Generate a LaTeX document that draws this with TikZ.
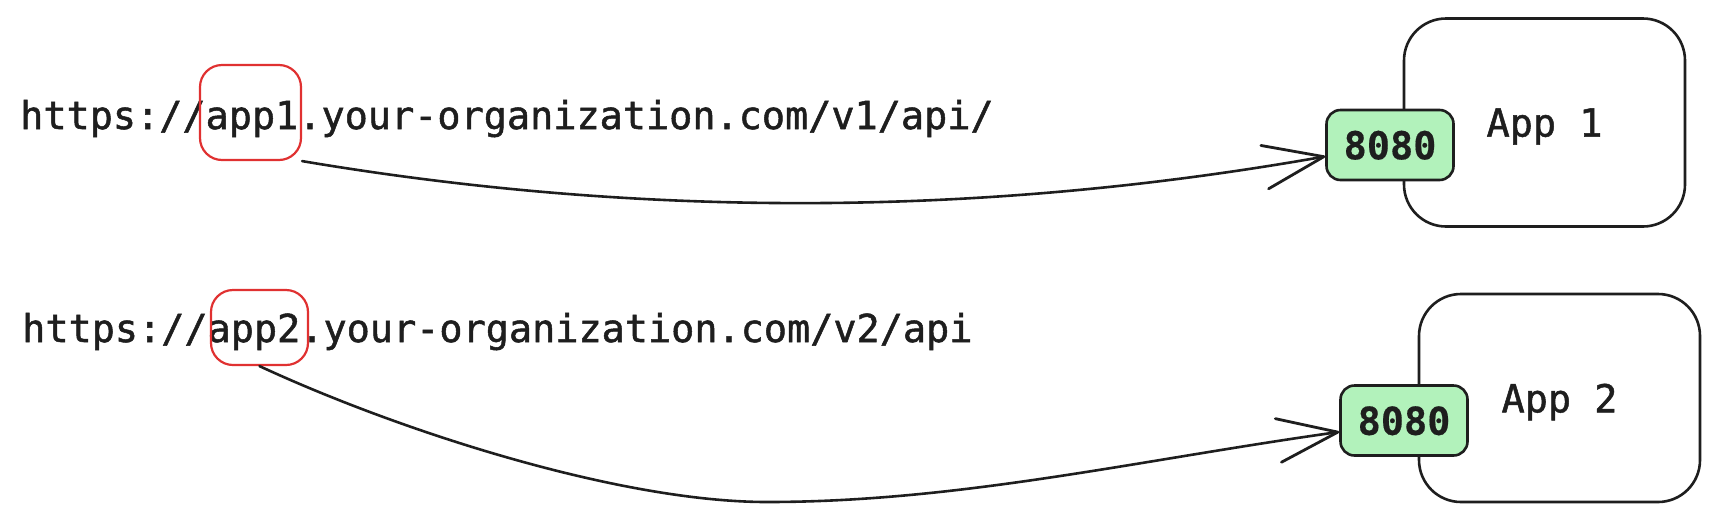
\documentclass[tikz,border=0pt]{standalone}
\usepackage{fontspec}
\setmainfont{DejaVu Sans Mono}[UprightFeatures={FakeBold=1.3}, BoldFeatures={FakeBold=0.4}]
\usetikzlibrary{arrows.meta}

\definecolor{ink}{HTML}{1E1E1E}
\definecolor{hlred}{HTML}{E03131}
\definecolor{portgreen}{HTML}{B2F2BB}

\tikzset{
  url/.style={anchor=base west, inner sep=0pt, text=ink},
  hlbox/.style={draw=hlred, line width=2.2pt, rounded corners=22pt, inner sep=0pt},
  appbox/.style={draw=ink, line width=2.6pt, rounded corners=42pt, fill=white,
    minimum width=281pt, minimum height=208pt, inner sep=0pt, text depth=0pt, text=ink},
  portbox/.style={draw=ink, line width=2.6pt, rounded corners=14pt, fill=portgreen,
    minimum width=127pt, minimum height=70pt, inner sep=0pt, text depth=0pt, text=ink,
    font=\bfseries},
  link/.style={draw=ink, line width=2.6pt, line cap=round,
    -{Straight Barb[length=60pt, width=44pt, line width=2.8pt, round]}}
}

\begin{document}
\begin{tikzpicture}[x=1pt, y=-1pt]
\useasboundingbox (0,0) rectangle (1718,523);
\fontsize{38.5}{46}\selectfont

\node[url] (url1) at (20,129) {https://app1.your-organization.com/v1/api/};
\node[url] (url2) at (22,342) {https://app2.your-organization.com/v2/api};

\node[hlbox, minimum width=101pt, minimum height=95pt] (hl1) at (250.5,112.5) {};
\node[hlbox, minimum width=97pt, minimum height=75pt] (hl2) at (259.5,327.5) {};

\node[appbox] (app1) at (1544.5,122.5) {App 1};
\node[appbox] (app2) at (1559.5,398) {App 2};

\node[portbox] (port1) at (1390,145) {8080};
\node[portbox] (port2) at (1404,420.5) {8080};

\coordinate (dip2) at (767,502);

\draw[link] (hl1.south east) .. controls +(344,58) and +(-339,60) .. (port1.190);
\draw[link] (hl2.south) .. controls +(140,65) and +(-147,0) .. (dip2)
  .. controls +(193,0) and +(-200,28) .. (port2.190);

\end{tikzpicture}
\end{document}
